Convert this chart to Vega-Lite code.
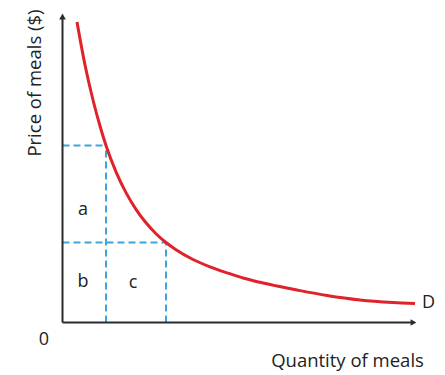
{
  "$schema": "https://vega.github.io/schema/vega-lite/v6.json",
  "width": 445,
  "height": 375,
  "padding": 0,
  "autosize": "none",
  "background": "white",
  "config": {"view": {"stroke": null}},
  "datasets": {
    "curve": [
      {"q": 14.5, "p": 300.5},
      {"q": 22.5, "p": 257.5},
      {"q": 30.5, "p": 222.5},
      {"q": 37.5, "p": 196.5},
      {"q": 43.5, "p": 177},
      {"q": 53.5, "p": 150.7},
      {"q": 63.5, "p": 129.9},
      {"q": 73.5, "p": 113.2},
      {"q": 83.5, "p": 99.7},
      {"q": 93.5, "p": 88.8},
      {"q": 103.5, "p": 80},
      {"q": 113.5, "p": 72.8},
      {"q": 130.5, "p": 63},
      {"q": 147.5, "p": 55.7},
      {"q": 164.5, "p": 49.7},
      {"q": 180.5, "p": 44.5},
      {"q": 197.5, "p": 40.2},
      {"q": 214.5, "p": 36.5},
      {"q": 234.5, "p": 32.5},
      {"q": 264.5, "p": 27},
      {"q": 297.5, "p": 22.5},
      {"q": 330.5, "p": 20},
      {"q": 352.5, "p": 19}
    ],
    "dashed": [
      {"x": 0, "y": 177, "x2": 43.5, "y2": 177},
      {"x": 43.5, "y": 0, "x2": 43.5, "y2": 177},
      {"x": 0, "y": 80, "x2": 103.5, "y2": 80},
      {"x": 103.5, "y": 0, "x2": 103.5, "y2": 80}
    ],
    "axes": [
      {"x": 0, "y": 0, "x2": 0, "y2": 306},
      {"x": 0, "y": 0, "x2": 351, "y2": 0}
    ],
    "arrows": [
      {"x": 0, "y": 306, "shape": "triangle-up"},
      {"x": 351, "y": 0, "shape": "triangle-right"}
    ],
    "labels": [
      {"x": 20.5, "y": 112.5, "t": "a"},
      {"x": 20.5, "y": 40.5, "t": "b"},
      {"x": 70.5, "y": 39.5, "t": "c"},
      {"x": 366, "y": 19.5, "t": "D"},
      {"x": -18.5, "y": -17.5, "t": "0"}
    ],
    "xtitle": [{"x": 285, "y": -38.5, "t": "Quantity of meals"}],
    "ytitle": [{"x": -27.5, "y": 239.5, "t": "Price of meals ($)"}]
  },
  "layer": [
    {
      "data": {"name": "dashed"},
      "mark": {"type": "rule", "color": "#3aa6dc", "strokeWidth": 2, "strokeDash": [7, 4]},
      "encoding": {
        "x": {"field": "x", "type": "quantitative", "scale": {"domain": [-62.5, 382.5], "nice": false, "zero": false}, "axis": null},
        "x2": {"field": "x2"},
        "y": {"field": "y", "type": "quantitative", "scale": {"domain": [-52.5, 322.5], "nice": false, "zero": false}, "axis": null},
        "y2": {"field": "y2"}
      }
    },
    {
      "data": {"name": "axes"},
      "mark": {"type": "rule", "color": "#2b2b2b", "strokeWidth": 2},
      "encoding": {
        "x": {"field": "x", "type": "quantitative", "scale": {"domain": [-62.5, 382.5], "nice": false, "zero": false}, "axis": null},
        "x2": {"field": "x2"},
        "y": {"field": "y", "type": "quantitative", "scale": {"domain": [-52.5, 322.5], "nice": false, "zero": false}, "axis": null},
        "y2": {"field": "y2"}
      }
    },
    {
      "data": {"name": "arrows"},
      "mark": {"type": "point", "filled": true, "color": "#2b2b2b", "size": 45, "opacity": 1},
      "encoding": {
        "x": {"field": "x", "type": "quantitative", "scale": {"domain": [-62.5, 382.5], "nice": false, "zero": false}, "axis": null},
        "y": {"field": "y", "type": "quantitative", "scale": {"domain": [-52.5, 322.5], "nice": false, "zero": false}, "axis": null},
        "shape": {"field": "shape", "type": "nominal", "scale": null, "legend": null}
      }
    },
    {
      "data": {"name": "curve"},
      "mark": {"type": "line", "color": "#e0222a", "strokeWidth": 3, "interpolate": "monotone"},
      "encoding": {
        "x": {"field": "q", "type": "quantitative", "scale": {"domain": [-62.5, 382.5], "nice": false, "zero": false}, "axis": null},
        "y": {"field": "p", "type": "quantitative", "scale": {"domain": [-52.5, 322.5], "nice": false, "zero": false}, "axis": null}
      }
    },
    {
      "data": {"name": "labels"},
      "mark": {"type": "text", "font": "Open Sans", "fontSize": 18, "color": "#222222", "align": "center", "baseline": "middle"},
      "encoding": {
        "x": {"field": "x", "type": "quantitative", "scale": {"domain": [-62.5, 382.5], "nice": false, "zero": false}, "axis": null},
        "y": {"field": "y", "type": "quantitative", "scale": {"domain": [-52.5, 322.5], "nice": false, "zero": false}, "axis": null},
        "text": {"field": "t"}
      }
    },
    {
      "data": {"name": "xtitle"},
      "mark": {"type": "text", "font": "Open Sans", "fontSize": 18.5, "color": "#222222", "align": "center", "baseline": "middle"},
      "encoding": {
        "x": {"field": "x", "type": "quantitative", "scale": {"domain": [-62.5, 382.5], "nice": false, "zero": false}, "axis": null},
        "y": {"field": "y", "type": "quantitative", "scale": {"domain": [-52.5, 322.5], "nice": false, "zero": false}, "axis": null},
        "text": {"field": "t"}
      }
    },
    {
      "data": {"name": "ytitle"},
      "mark": {"type": "text", "font": "Open Sans", "fontSize": 18.5, "color": "#222222", "align": "center", "baseline": "middle", "angle": 270},
      "encoding": {
        "x": {"field": "x", "type": "quantitative", "scale": {"domain": [-62.5, 382.5], "nice": false, "zero": false}, "axis": null},
        "y": {"field": "y", "type": "quantitative", "scale": {"domain": [-52.5, 322.5], "nice": false, "zero": false}, "axis": null},
        "text": {"field": "t"}
      }
    }
  ]
}
